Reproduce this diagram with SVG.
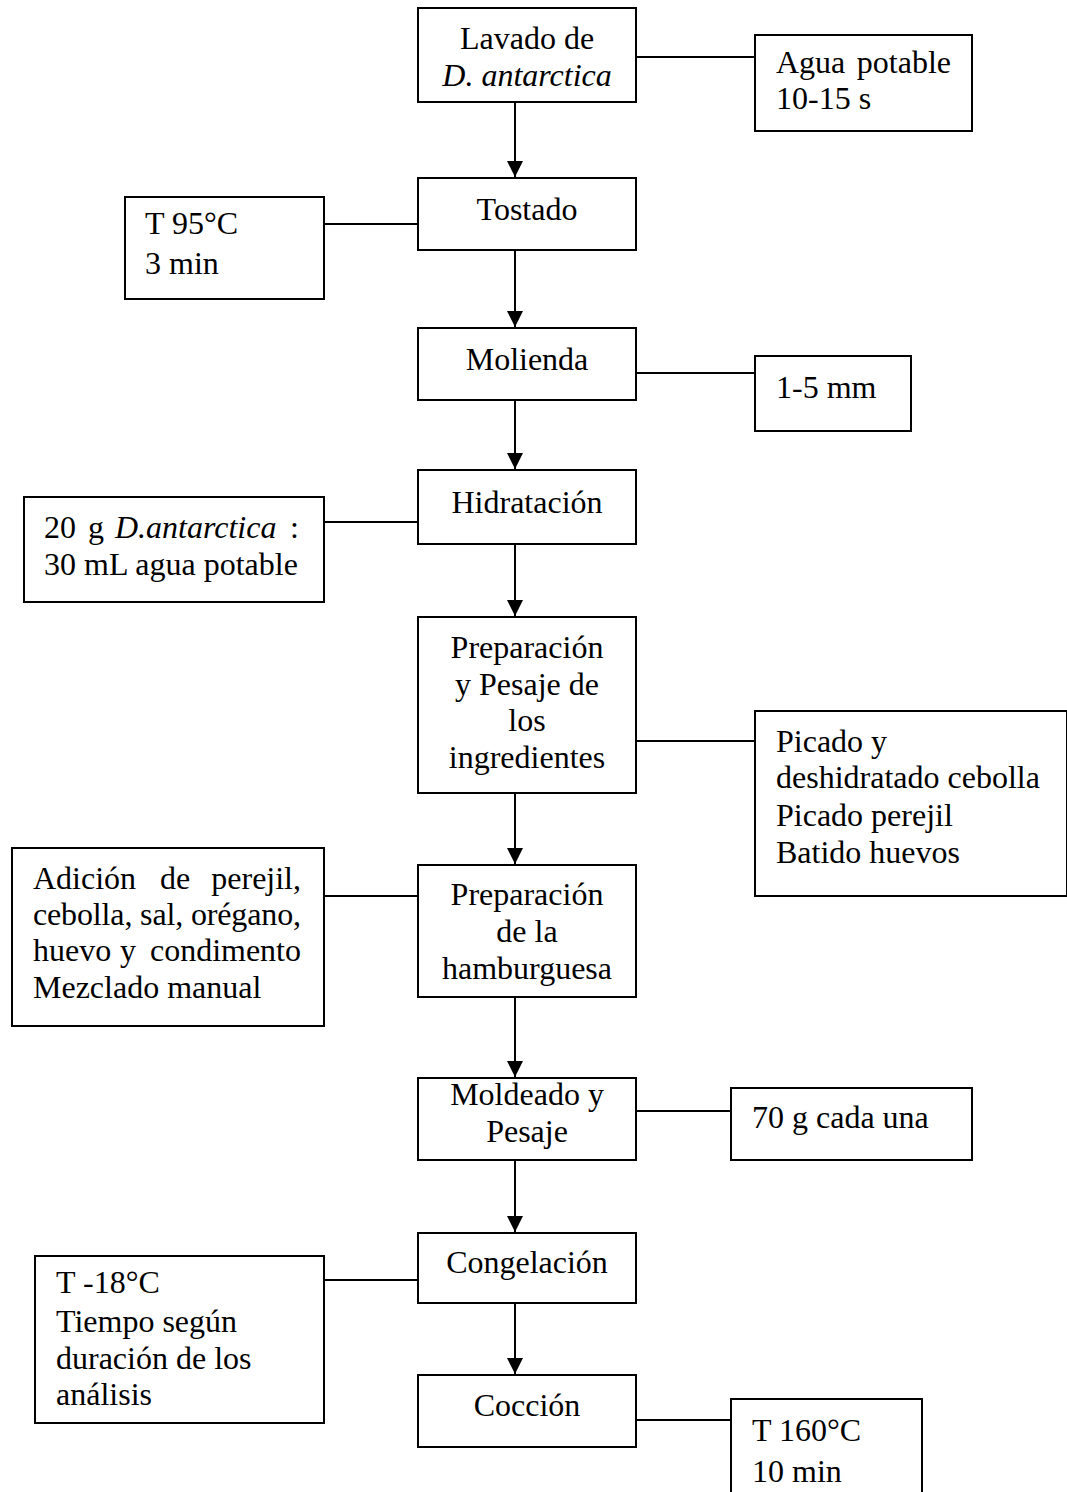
<svg xmlns="http://www.w3.org/2000/svg" width="1067" height="1492" viewBox="0 0 1067 1492">
<style>
.box{fill:#fff;stroke:#000;stroke-width:2}
.ln{stroke:#000;stroke-width:2;fill:none}
.t{font-family:"Liberation Serif","Times New Roman",serif;font-size:32px;fill:#000}
.c{text-anchor:middle}
.i{font-style:italic}
.e{text-anchor:end}
</style>
<defs>
<marker id="ah" markerUnits="userSpaceOnUse" markerWidth="16" markerHeight="19" refX="16" refY="8" orient="auto">
<path d="M0,0 L16,8 L0,16 Z" fill="#000"/>
</marker>
</defs>
<rect width="1067" height="1492" fill="#fff"/>
<g id="connectors">
<line class="ln" x1="515" y1="102" x2="515" y2="177" marker-end="url(#ah)"/>
<line class="ln" x1="515" y1="250" x2="515" y2="327" marker-end="url(#ah)"/>
<line class="ln" x1="515" y1="400" x2="515" y2="469" marker-end="url(#ah)"/>
<line class="ln" x1="515" y1="544" x2="515" y2="616" marker-end="url(#ah)"/>
<line class="ln" x1="515" y1="793" x2="515" y2="864" marker-end="url(#ah)"/>
<line class="ln" x1="515" y1="997" x2="515" y2="1077" marker-end="url(#ah)"/>
<line class="ln" x1="515" y1="1160" x2="515" y2="1232" marker-end="url(#ah)"/>
<line class="ln" x1="515" y1="1303" x2="515" y2="1374" marker-end="url(#ah)"/>
<line class="ln" x1="636" y1="57" x2="755" y2="57"/>
<line class="ln" x1="324" y1="224" x2="418" y2="224"/>
<line class="ln" x1="636" y1="373" x2="755" y2="373"/>
<line class="ln" x1="324" y1="522" x2="418" y2="522"/>
<line class="ln" x1="636" y1="741" x2="755" y2="741"/>
<line class="ln" x1="324" y1="896" x2="418" y2="896"/>
<line class="ln" x1="636" y1="1111" x2="731" y2="1111"/>
<line class="ln" x1="324" y1="1280" x2="418" y2="1280"/>
<line class="ln" x1="636" y1="1420" x2="731" y2="1420"/>
</g>
<g id="lavado">
<rect class="box" x="418" y="8" width="218" height="94"/>
<text class="t c" x="527" y="49">Lavado de</text>
<text class="t c i" x="527" y="86">D. antarctica</text>
</g>
<g id="agua">
<rect class="box" x="755" y="35" width="217" height="96"/>
<text class="t" x="776" y="73">Agua</text>
<text class="t e" x="951" y="73">potable</text>
<text class="t" x="776" y="109">10-15 s</text>
</g>
<g id="tostado">
<rect class="box" x="418" y="178" width="218" height="72"/>
<text class="t c" x="527" y="220">Tostado</text>
</g>
<g id="t95">
<rect class="box" x="125" y="197" width="199" height="102"/>
<text class="t" x="145" y="234">T 95°C</text>
<text class="t" x="145" y="274">3 min</text>
</g>
<g id="molienda">
<rect class="box" x="418" y="328" width="218" height="72"/>
<text class="t c" x="527" y="370">Molienda</text>
</g>
<g id="mm">
<rect class="box" x="755" y="356" width="156" height="75"/>
<text class="t" x="776" y="398">1-5 mm</text>
</g>
<g id="hidratacion">
<rect class="box" x="418" y="470" width="218" height="74"/>
<text class="t c" x="527" y="513">Hidratación</text>
</g>
<g id="proporcion">
<rect class="box" x="24" y="497" width="300" height="105"/>
<text class="t" x="44" y="538">20</text>
<text class="t" x="88" y="538">g</text>
<text class="t i" x="115" y="538">D.antarctica</text>
<text class="t e" x="299" y="538">:</text>
<text class="t" x="44" y="575">30 mL agua potable</text>
</g>
<g id="preparacion-ingredientes">
<rect class="box" x="418" y="617" width="218" height="176"/>
<text class="t c" x="527" y="658">Preparación</text>
<text class="t c" x="527" y="695">y Pesaje de</text>
<text class="t c" x="527" y="731">los</text>
<text class="t c" x="527" y="768">ingredientes</text>
</g>
<g id="picado">
<rect class="box" x="755" y="711" width="312" height="185"/>
<text class="t" x="776" y="752">Picado y</text>
<text class="t" x="776" y="788">deshidratado cebolla</text>
<text class="t" x="776" y="826">Picado perejil</text>
<text class="t" x="776" y="863">Batido huevos</text>
</g>
<g id="preparacion-hamburguesa">
<rect class="box" x="418" y="865" width="218" height="132"/>
<text class="t c" x="527" y="905">Preparación</text>
<text class="t c" x="527" y="942">de la</text>
<text class="t c" x="527" y="979">hamburguesa</text>
</g>
<g id="adicion">
<rect class="box" x="12" y="848" width="312" height="178"/>
<text class="t" x="33" y="889">Adición</text>
<text class="t" x="160" y="889">de</text>
<text class="t e" x="301" y="889">perejil,</text>
<text class="t" x="33" y="925" textLength="268">cebolla, sal, orégano,</text>
<text class="t" x="33" y="961">huevo</text>
<text class="t" x="120" y="961">y</text>
<text class="t e" x="301" y="961">condimento</text>
<text class="t" x="33" y="998">Mezclado manual</text>
</g>
<g id="moldeado">
<rect class="box" x="418" y="1078" width="218" height="82"/>
<text class="t c" x="527" y="1105">Moldeado y</text>
<text class="t c" x="527" y="1142">Pesaje</text>
</g>
<g id="g70">
<rect class="box" x="731" y="1088" width="241" height="72"/>
<text class="t" x="752" y="1128">70 g cada una</text>
</g>
<g id="congelacion">
<rect class="box" x="418" y="1233" width="218" height="70"/>
<text class="t c" x="527" y="1273">Congelación</text>
</g>
<g id="t18">
<rect class="box" x="35" y="1256" width="289" height="167"/>
<text class="t" x="56" y="1293">T -18°C</text>
<text class="t" x="56" y="1332">Tiempo según</text>
<text class="t" x="56" y="1369">duración de los</text>
<text class="t" x="56" y="1405">análisis</text>
</g>
<g id="coccion">
<rect class="box" x="418" y="1375" width="218" height="72"/>
<text class="t c" x="527" y="1416">Cocción</text>
</g>
<g id="t160">
<rect class="box" x="731" y="1399" width="191" height="130"/>
<text class="t" x="752" y="1441">T 160°C</text>
<text class="t" x="752" y="1482">10 min</text>
</g>
</svg>
